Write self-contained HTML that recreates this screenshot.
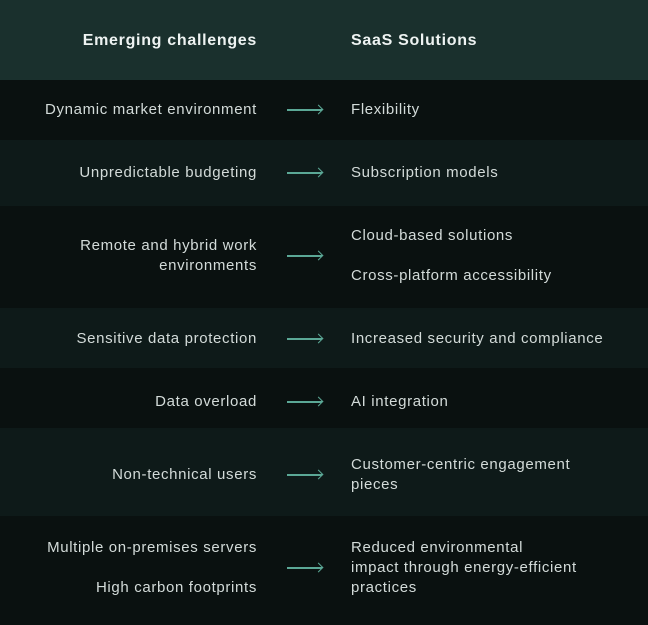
<!DOCTYPE html>
<html><head><style>
body{margin:0;width:648px;height:625px;background:#0a1110;font-family:"Liberation Sans",sans-serif;overflow:hidden;position:relative}
.r{position:absolute;left:0;width:648px}
.d{background:#0a1110}.l{background:#0e1a19}
.h{background:#1a302d;top:0;height:80px}
.t{position:absolute;color:#d3dbd9;font-size:15px;letter-spacing:0.65px;line-height:20px;white-space:nowrap}
.L{right:391px;text-align:right}
.R{left:351px}
.hd{font-weight:bold;font-size:16px;color:#eef3f2;letter-spacing:0.7px}
.a{position:absolute;left:287px;width:35px;height:2px;background:#5ba896}
.a:after{content:"";position:absolute;right:0;top:-3px;width:6px;height:6px;border-top:1.5px solid #5ba896;border-right:1.5px solid #5ba896;transform:rotate(45deg)}
</style></head><body>
<div class="r h"></div>
<div class="t L hd" style="top:31px">Emerging challenges</div>
<div class="t R hd" style="top:31px">SaaS Solutions</div>

<div class="r d" style="top:80px;height:60px"></div>
<div class="t L" style="top:100px">Dynamic market environment</div>
<div class="a" style="top:109px"></div>
<div class="t R" style="top:100px">Flexibility</div>

<div class="r l" style="top:140px;height:66px"></div>
<div class="t L" style="top:163px">Unpredictable budgeting</div>
<div class="a" style="top:172px"></div>
<div class="t R" style="top:163px">Subscription models</div>

<div class="r d" style="top:206px;height:102px"></div>
<div class="t L" style="top:236px">Remote and hybrid work<br>environments</div>
<div class="a" style="top:255px"></div>
<div class="t R" style="top:226px">Cloud-based solutions</div>
<div class="t R" style="top:266px">Cross-platform accessibility</div>

<div class="r l" style="top:308px;height:60px"></div>
<div class="t L" style="top:329px">Sensitive data protection</div>
<div class="a" style="top:338px"></div>
<div class="t R" style="top:329px">Increased security and compliance</div>

<div class="r d" style="top:368px;height:60px"></div>
<div class="t L" style="top:392px">Data overload</div>
<div class="a" style="top:401px"></div>
<div class="t R" style="top:392px">AI integration</div>

<div class="r l" style="top:428px;height:88px"></div>
<div class="t L" style="top:465px">Non-technical users</div>
<div class="a" style="top:474px"></div>
<div class="t R" style="top:455px">Customer-centric engagement<br>pieces</div>

<div class="r d" style="top:516px;height:109px"></div>
<div class="t L" style="top:538px">Multiple on-premises servers</div>
<div class="t L" style="top:578px">High carbon footprints</div>
<div class="a" style="top:567px"></div>
<div class="t R" style="top:538px">Reduced environmental<br>impact through energy-efficient<br>practices</div>
</body></html>
